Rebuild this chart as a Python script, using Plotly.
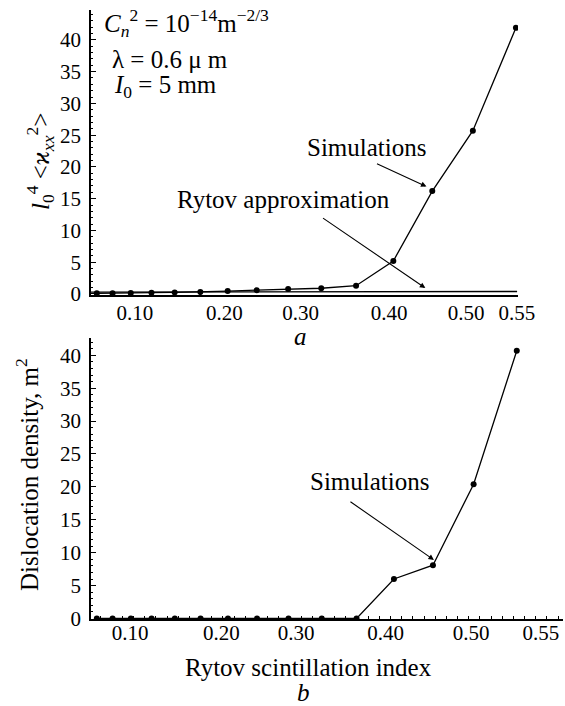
import plotly.graph_objects as go

# ---- data ----
scint_index = [0.054, 0.073, 0.095, 0.120, 0.148, 0.179, 0.212, 0.247, 0.285,
               0.325, 0.367, 0.412, 0.459, 0.508, 0.560]
curvature_sim = [0.1, 0.1, 0.15, 0.2, 0.25, 0.3, 0.45, 0.6, 0.8, 0.9, 1.3,
                 5.2, 16.2, 25.7, 41.9]
rytov_x = [0.047, 0.5614]
rytov_curv = [0.30, 0.40]
disloc_density = [0, 0, 0, 0, 0, 0, 0, 0, 0, 0, 0, 6.0, 8.1, 20.4, 40.7]

tick_text = ["0.10", "0.20", "0.30", "0.40", "0.50", "0.55"]
top_tick_pos = [0.100, 0.208, 0.300, 0.407, 0.500, 0.561]
bottom_tick_pos = [0.094, 0.204, 0.294, 0.402, 0.505, 0.589]
y_ticks = [0, 5, 10, 15, 20, 25, 30, 35, 40]

FONT = "Liberation Serif"
W, H = 565, 706

fig = go.Figure()

line_style = dict(color="black", width=1.3)
marker_style = dict(color="black", size=6, symbol="circle")

fig.add_trace(go.Scatter(x=rytov_x, y=rytov_curv, mode="lines",
                         line=dict(color="black", width=1.4),
                         xaxis="x", yaxis="y", showlegend=False))
fig.add_trace(go.Scatter(x=scint_index, y=curvature_sim, mode="lines+markers",
                         line=line_style, marker=marker_style,
                         xaxis="x", yaxis="y", showlegend=False))
fig.add_trace(go.Scatter(x=scint_index, y=disloc_density, mode="lines+markers",
                         line=line_style, marker=marker_style,
                         xaxis="x2", yaxis="y2", showlegend=False))

tickfont = dict(family=FONT, size=21, color="black")

fig.update_layout(
    width=W, height=H,
    margin=dict(l=0, r=0, t=0, b=0),
    paper_bgcolor="white", plot_bgcolor="white",
    font=dict(family=FONT, color="black"),
    xaxis=dict(domain=[91 / W, 518 / W], range=[0.047, 0.5625], anchor="y",
               tickmode="array", tickvals=top_tick_pos, ticktext=tick_text,
               ticks="", showgrid=False, zeroline=False,
               showline=True, linecolor="black", linewidth=1.5,
               tickfont=tickfont, ticklabelstandoff=-2, automargin=False),
    yaxis=dict(domain=[1 - 295 / H, 1 - 10 / H], range=[-0.16, 44.7], anchor="x",
               tickmode="array", tickvals=y_ticks,
               ticks="inside", ticklen=5, tickwidth=1, tickcolor="black",
               minor=dict(ticks="inside", ticklen=2.5, dtick=1, tick0=0,
                          tickcolor="black", tickwidth=1),
               showgrid=False, zeroline=False,
               showline=True, linecolor="black", linewidth=1.5,
               tickfont=tickfont, ticklabelstandoff=4, automargin=False),
    xaxis2=dict(domain=[91 / W, 563 / W], range=[0.047, 0.6157], anchor="y2",
                tickmode="array", tickvals=bottom_tick_pos, ticktext=tick_text,
                ticks="", showgrid=False, zeroline=False,
                minor=dict(ticks="inside", ticklen=3.5, tickmode="linear",
                           tick0=0.2867, dtick=0.01346,
                           tickcolor="black", tickwidth=1),
                showline=True, linecolor="black", linewidth=1.5,
                tickfont=tickfont, ticklabelstandoff=-6, automargin=False),
    yaxis2=dict(domain=[1 - 619 / H, 1 - 338 / H], range=[-0.08, 42.63], anchor="x2",
                tickmode="array", tickvals=y_ticks,
                ticks="inside", ticklen=5, tickwidth=1, tickcolor="black",
                minor=dict(ticks="inside", ticklen=2.5, dtick=1, tick0=0,
                           tickcolor="black", tickwidth=1),
                showgrid=False, zeroline=False,
                showline=True, linecolor="black", linewidth=1.5,
                tickfont=tickfont, ticklabelstandoff=4, automargin=False),
)

tfont = dict(family=FONT, size=25, color="black")
C = dict(xanchor="center", yanchor="middle", showarrow=False, font=tfont)
ann = []
# parameters
ann.append(dict(x=0.0602, y=42.7, xref="x", yref="y", xanchor="left", yanchor="middle",
                text="<i>C</i><sub><i>n</i></sub><sup>2</sup> = 10<sup>\u221214</sup>m<sup>\u22122/3</sup>",
                showarrow=False, font=tfont))
ann.append(dict(x=0.0699, y=36.85, xref="x", yref="y", xanchor="left", yanchor="middle",
                text="\u03bb = 0.6 \u03bc m", showarrow=False, font=tfont))
ann.append(dict(x=0.0723, y=32.6, xref="x", yref="y", xanchor="left", yanchor="middle",
                text="<i>I</i><sub>0</sub> = 5 mm", showarrow=False, font=tfont))
# top panel labels + arrows
ann.append(dict(x=0.380, y=23.1, xref="x", yref="y", text="Simulations", **C))
ann.append(dict(x=0.452, y=16.9, ax=0.3904, ay=20.6, xref="x", yref="y",
                axref="x", ayref="y", text="", showarrow=True,
                arrowhead=2, arrowsize=1, arrowwidth=1.1, arrowcolor="black"))
ann.append(dict(x=0.2795, y=14.8, xref="x", yref="y", text="Rytov approximation", **C))
ann.append(dict(x=0.4506, y=0.94, ax=0.3253, ay=12.1, xref="x", yref="y",
                axref="x", ayref="y", text="", showarrow=True,
                arrowhead=2, arrowsize=1, arrowwidth=1.1, arrowcolor="black"))
# bottom panel label + arrow
ann.append(dict(x=0.382, y=20.8, xref="x2", yref="y2", text="Simulations", **C))
ann.append(dict(x=0.4602, y=8.9, ax=0.3578, ay=17.9, xref="x2", yref="y2",
                axref="x2", ayref="y2", text="", showarrow=True,
                arrowhead=2, arrowsize=1, arrowwidth=1.1, arrowcolor="black"))
# panel letters
ann.append(dict(x=300 / W, y=1 - 336 / H, xref="paper", yref="paper",
                text="<i>a</i>", **C))
ann.append(dict(x=303 / W, y=1 - 692 / H, xref="paper", yref="paper",
                text="<i>b</i>", **C))
# axis titles
ann.append(dict(x=308 / W, y=1 - 667 / H, xref="paper", yref="paper",
                text="Rytov scintillation index", **C))
ann.append(dict(x=40 / W, y=1 - 162 / H, xref="paper", yref="paper", textangle=-90,
                text="<i>l</i><sub>0</sub><sup>4</sup> &lt;<i>\u03f0</i><sub><i>xx</i></sub><sup>2</sup>&gt;",
                **C))
ann.append(dict(x=27 / W, y=1 - 475 / H, xref="paper", yref="paper", textangle=-90,
                text="Dislocation density, m<sup>2</sup>", **C))

fig.update_layout(annotations=ann)
fig.write_html("out.html", config={"displayModeBar": False},
               post_script="document.body.style.margin='0';document.body.style.overflow='hidden';")
